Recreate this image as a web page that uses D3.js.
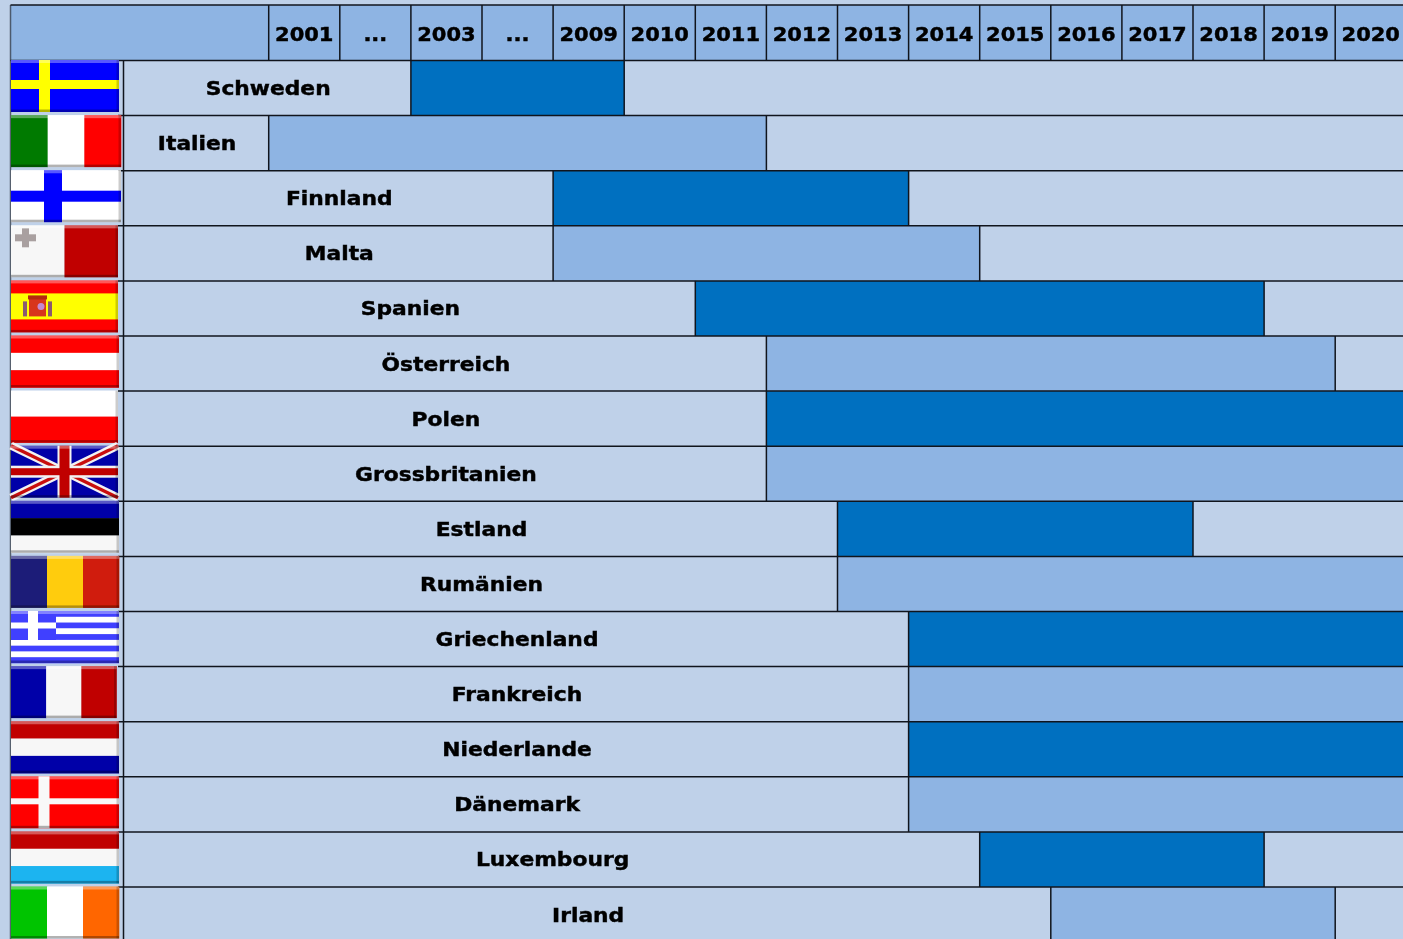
<!DOCTYPE html>
<html>
<head>
<meta charset="utf-8">
<script src="https://cdn.jsdelivr.net/npm/d3@7"></script>
<style>
    html, body { margin: 0; padding: 0; background: #bfd1e9; overflow: hidden; }
    svg { display: block; }
    text { font-family: "DejaVu Sans", sans-serif; font-weight: bold; fill: #000; stroke: #000; stroke-width: 0.45px; }
</style>
</head>
<body>
<div id="chart"></div>
<script>
// table columns, the two "..." columns stand for the skipped years
const columnKeys = ["2001", "2002", "2003", "2004-2008", "2009", "2010", "2011", "2012", "2013", "2014", "2015", "2016", "2017", "2018", "2019", "2020"];
const columnLabels = ["2001", "...", "2003", "...", "2009", "2010", "2011", "2012", "2013", "2014", "2015", "2016", "2017", "2018", "2019", "2020"];

const countries = ["Schweden", "Italien", "Finnland", "Malta", "Spanien", "Österreich", "Polen", "Grossbritanien", "Estland", "Rumänien", "Griechenland", "Frankreich", "Niederlande", "Dänemark", "Luxembourg", "Irland"];
const startColumns = ["2003", "2001", "2009", "2009", "2011", "2012", "2012", "2012", "2013", "2013", "2014", "2014", "2014", "2014", "2015", "2016"];
const endColumns = ["2009", "2011", "2013", "2014", "2018", "2019", "2020", "2020", "2017", "2020", "2020", "2020", "2020", "2020", "2018", "2019"];

const lightBlue = "#bfd1e9", midBlue = "#8eb4e3", darkBlue = "#0070c0", lineColor = "#10141c";
const flagWidths = [108, 110, 110, 107, 107, 108, 107, 107, 108, 108, 108, 105.5, 108, 108, 108, 108];

const width = 1403, height = 939;
const tableLeft = 10.5, labelLeft = 123.5, headerTop = 5, headerBottom = 60.5;

const svg = d3.select("#chart").append("svg")
    .attr("width", width)
    .attr("height", height);

const x = d3.scaleBand()
    .domain(columnKeys)
    .range([268.7, 1406.3]);

const y = d3.scaleBand()
    .domain(countries)
    .range([headerBottom, headerBottom + 16 * 55.1]);

// slightly soft look, the source is an upscaled screenshot
const defs = svg.append("defs");
defs.append("filter").attr("id", "soft")
    .append("feGaussianBlur").attr("stdDeviation", 0.45);

// header
svg.append("rect")
    .attr("x", tableLeft)
    .attr("y", headerTop)
    .attr("width", width - tableLeft)
    .attr("height", headerBottom - headerTop)
    .attr("fill", midBlue);

// rows: label cell + coloured period
const rows = svg.append("g").selectAll("g")
    .data(countries)
    .join("g");

rows.append("rect")
    .attr("x", labelLeft)
    .attr("y", d => y(d))
    .attr("width", width - labelLeft)
    .attr("height", y.bandwidth())
    .attr("fill", lightBlue);

rows.append("rect")
    .attr("x", (d, i) => x(startColumns[i]))
    .attr("y", d => y(d))
    .attr("width", (d, i) => x(endColumns[i]) + x.bandwidth() - x(startColumns[i]))
    .attr("height", y.bandwidth())
    .attr("fill", (d, i) => i % 2 === 0 ? darkBlue : midBlue);

// grid lines
const grid = svg.append("g")
    .attr("stroke", lineColor)
    .attr("stroke-width", 1.5);

grid.append("line").attr("x1", tableLeft).attr("x2", width).attr("y1", headerTop).attr("y2", headerTop);
grid.append("line").attr("x1", tableLeft).attr("x2", tableLeft).attr("y1", headerTop).attr("y2", height).attr("stroke-opacity", 0.6);
grid.append("line").attr("x1", labelLeft).attr("x2", labelLeft).attr("y1", headerBottom).attr("y2", height);
grid.append("line").attr("x1", tableLeft).attr("x2", width).attr("y1", headerBottom).attr("y2", headerBottom);

countries.forEach(function (c, i) {
    grid.append("line")
        .attr("x1", 118).attr("x2", width)
        .attr("y1", y(c) + y.bandwidth()).attr("y2", y(c) + y.bandwidth());
    grid.append("line")
        .attr("x1", x(startColumns[i])).attr("x2", x(startColumns[i]))
        .attr("y1", y(c)).attr("y2", y(c) + y.bandwidth());
    if (endColumns[i] !== "2020") {
        const xEnd = x(endColumns[i]) + x.bandwidth();
        grid.append("line")
            .attr("x1", xEnd).attr("x2", xEnd)
            .attr("y1", y(c)).attr("y2", y(c) + y.bandwidth());
    }
});

columnKeys.forEach(function (k) {
    grid.append("line")
        .attr("x1", x(k)).attr("x2", x(k))
        .attr("y1", headerTop).attr("y2", headerBottom);
});

// year labels
const axis = svg.append("g")
    .attr("transform", "translate(0," + (headerBottom - 20) + ")")
    .attr("filter", "url(#soft)")
    .call(d3.axisTop(x).tickSize(0).tickFormat((d, i) => columnLabels[i]));
axis.select(".domain").remove();
axis.selectAll("text")
    .style("font-size", "20px")
    .style("font-family", "'DejaVu Sans', sans-serif")
    .attr("y", 0)
    .attr("dy", 0)
    .attr("transform", "scale(1.05,1)");

// country names, centered over the free cell left of the period
svg.append("g").attr("filter", "url(#soft)")
    .selectAll("text")
    .data(countries)
    .join("text")
    .attr("text-anchor", "middle")
    .style("font-size", "20px")
    .attr("transform", (d, i) => "translate(" + ((labelLeft + x(startColumns[i])) / 2 + 1) + "," + (y(d) + y.bandwidth() / 2 + 7) + ") scale(1.09,1)")
    .text(d => d);

// flags
const FH = 52;
const red = "#ff0000", dred = "#c00000", blue = "#0000ff", dblue = "#0000a8", white = "#f7f7f7";

function vStripes(g, w, cols) {
    cols.forEach(function (c, i) {
        g.append("rect").attr("x", w * i / cols.length).attr("width", w / cols.length + 0.3).attr("height", FH).attr("fill", c);
    });
}

function hStripes(g, w, cols) {
    cols.forEach(function (c, i) {
        g.append("rect").attr("y", FH * i / cols.length).attr("width", w).attr("height", FH / cols.length + 0.3).attr("fill", c);
    });
}

function cross(g, w, bg, fg, cx, barW, cy, barH) {
    g.append("rect").attr("width", w).attr("height", FH).attr("fill", bg);
    g.append("rect").attr("x", cx - barW / 2).attr("width", barW).attr("height", FH).attr("fill", fg);
    g.append("rect").attr("y", cy - barH / 2).attr("width", w).attr("height", barH).attr("fill", fg);
}

const flagPainters = {
    "Schweden": (g, w) => cross(g, w, blue, "#ffff00", 33.5, 11, 24.5, 9),
    "Italien": (g, w) => vStripes(g, w, ["#007a00", "#ffffff", red]),
    "Finnland": (g, w) => cross(g, w, "#ffffff", blue, 42, 18, 26, 11),
    "Malta": function (g, w) {
        g.append("rect").attr("width", w / 2).attr("height", FH).attr("fill", white);
        g.append("rect").attr("x", w / 2).attr("width", w / 2).attr("height", FH).attr("fill", dred);
        g.append("rect").attr("x", 4).attr("y", 9).attr("width", 21).attr("height", 7).attr("fill", "#a9a0a0");
        g.append("rect").attr("x", 11).attr("y", 3).attr("width", 7).attr("height", 19).attr("fill", "#a9a0a0");
    },
    "Spanien": function (g, w) {
        g.append("rect").attr("width", w).attr("height", FH).attr("fill", red);
        g.append("rect").attr("y", 13).attr("width", w).attr("height", 26).attr("fill", "#ffff00");
        g.append("rect").attr("x", 18).attr("y", 17).attr("width", 17).attr("height", 19).attr("fill", "#d8351a");
        g.append("rect").attr("x", 17).attr("y", 15).attr("width", 19).attr("height", 4).attr("fill", "#b52a10");
        g.append("rect").attr("x", 12).attr("y", 21).attr("width", 4).attr("height", 15).attr("fill", "#8a5a70");
        g.append("rect").attr("x", 37).attr("y", 21).attr("width", 4).attr("height", 15).attr("fill", "#8a5a70");
        g.append("circle").attr("cx", 30).attr("cy", 26).attr("r", 3.5).attr("fill", "#c58ad0");
    },
    "Österreich": (g, w) => hStripes(g, w, [red, "#ffffff", red]),
    "Polen": (g, w) => hStripes(g, w, ["#ffffff", red]),
    "Grossbritanien": function (g, w) {
        g.append("rect").attr("width", w).attr("height", FH).attr("fill", dblue);
        [[0, 0, w, FH], [0, FH, w, 0]].forEach(function (l) {
            g.append("line").attr("x1", l[0]).attr("y1", l[1]).attr("x2", l[2]).attr("y2", l[3]).attr("stroke", "#f2f2f2").attr("stroke-width", 8);
            g.append("line").attr("x1", l[0]).attr("y1", l[1]).attr("x2", l[2]).attr("y2", l[3]).attr("stroke", "#c81010").attr("stroke-width", 3.5);
        });
        g.append("rect").attr("x", w / 2 - 7).attr("width", 14).attr("height", FH).attr("fill", "#f2f2f2");
        g.append("rect").attr("y", FH / 2 - 6).attr("width", w).attr("height", 12).attr("fill", "#f2f2f2");
        g.append("rect").attr("x", w / 2 - 5).attr("width", 10).attr("height", FH).attr("fill", "#c00000");
        g.append("rect").attr("y", FH / 2 - 3.5).attr("width", w).attr("height", 7).attr("fill", "#c00000");
    },
    "Estland": (g, w) => hStripes(g, w, [dblue, "#000000", white]),
    "Rumänien": (g, w) => vStripes(g, w, ["#1c1c78", "#ffcc0c", "#d01a08"]),
    "Griechenland": function (g, w) {
        const stripeBlue = "#4040ff";
        hStripes(g, w, [stripeBlue, "#fff", stripeBlue, "#fff", stripeBlue, "#fff", stripeBlue, "#fff", stripeBlue]);
        g.append("rect").attr("width", 45).attr("height", 29).attr("fill", stripeBlue);
        g.append("rect").attr("x", 17).attr("width", 10).attr("height", 29).attr("fill", "#fff");
        g.append("rect").attr("y", 11.5).attr("width", 45).attr("height", 6).attr("fill", "#fff");
    },
    "Frankreich": (g, w) => vStripes(g, w, [dblue, white, dred]),
    "Niederlande": (g, w) => hStripes(g, w, [dred, white, dblue]),
    "Dänemark": (g, w) => cross(g, w, red, "#f8f8f8", 33, 11, 25, 6),
    "Luxembourg": (g, w) => hStripes(g, w, [dred, white, "#1ab4f0"]),
    "Irland": (g, w) => vStripes(g, w, ["#00c400", "#ffffff", "#ff6600"])
};

const flags = svg.append("g").attr("filter", "url(#soft)");
countries.forEach(function (c, i) {
    const w = flagWidths[i];
    const g = flags.append("g").attr("transform", "translate(11," + (y(c) - 0.5) + ")");
    flagPainters[c](g, w);
    // bevel
    g.append("rect").attr("width", w).attr("height", 3).attr("fill", "#fff").attr("fill-opacity", 0.35);
    g.append("rect").attr("y", FH - 2.5).attr("width", w).attr("height", 2.5).attr("fill", "#000").attr("fill-opacity", 0.3);
    g.append("rect").attr("x", w - 2.5).attr("width", 2.5).attr("height", FH).attr("fill", "#000").attr("fill-opacity", 0.2);
});
</script>
</body>
</html>
